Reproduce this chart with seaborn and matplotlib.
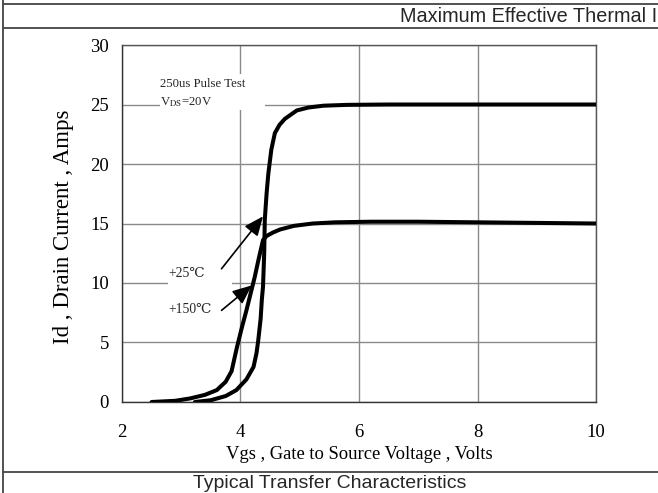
import pandas as pd
import seaborn as sns
import matplotlib.pyplot as plt
from matplotlib.patches import Rectangle
from matplotlib.lines import Line2D

# values
vgs_25c = [3.23, 3.5, 3.75, 3.93, 4.1, 4.22, 4.27, 4.30, 4.34, 4.36, 4.38, 4.40, 4.41,
           4.44, 4.47, 4.52, 4.58, 4.66, 4.75, 4.95, 5.15, 5.4, 5.8, 6.5, 8.0, 10.0]
id_25c = [0.0, 0.15, 0.5, 1.0, 1.9, 2.95, 4.1, 5.2, 7.0, 8.6, 9.7, 12.5, 15.3,
          17.5, 19.2, 21.2, 22.6, 23.3, 23.8, 24.5, 24.75, 24.9, 24.97, 25.0, 25.0, 25.0]

vgs_150c = [2.5, 2.9, 3.15, 3.4, 3.6, 3.75, 3.85, 3.94, 4.02, 4.1, 4.17, 4.24, 4.31,
            4.38, 4.44, 4.55, 4.67, 4.9, 5.22, 5.6, 6.2, 7.0, 8.0, 9.0, 10.0]
id_150c = [0.0, 0.1, 0.3, 0.6, 1.0, 1.7, 2.6, 4.6, 6.2, 7.7, 9.1, 10.5, 12.1,
           13.6, 13.95, 14.25, 14.5, 14.8, 15.0, 15.1, 15.15, 15.15, 15.1, 15.05, 15.0]

x_ticks = [2, 4, 6, 8, 10]
y_ticks = [0, 5, 10, 15, 20, 25, 30]

df = pd.concat([
    pd.DataFrame({"Vgs": vgs_25c, "Id": id_25c, "temp": "+25℃"}),
    pd.DataFrame({"Vgs": vgs_150c, "Id": id_150c, "temp": "+150℃"}),
])

sns.set_theme(style="white")
plt.rcParams["font.family"] = ["Liberation Serif", "DejaVu Serif", "DejaVu Sans"]
plt.rcParams["mathtext.fontset"] = "stix"

fig = plt.figure(figsize=(6.58, 4.93), dpi=100)
ax = fig.add_axes([0.1854, 0.1846, 0.7204, 0.7241])

sns.lineplot(data=df, x="Vgs", y="Id", units="temp", estimator=None, sort=False,
             color="black", lw=2.9, legend=False, ax=ax, zorder=4,
             solid_capstyle="round", solid_joinstyle="round")

ax.set_xlim(2, 10)
ax.set_ylim(0, 30)
ax.set_xticks(x_ticks)
ax.set_yticks(y_ticks)
ax.set_axisbelow(True)
ax.grid(True, color="#8a8a8a", lw=1)
for side, sp in ax.spines.items():
    sp.set_color("#555555" if side in ("top", "right") else "#333333")
    sp.set_linewidth(1.0)
ax.tick_params(axis="x", length=0, pad=15.5, labelsize=13.5, colors="black")
ax.tick_params(axis="y", length=0, pad=9.5, labelsize=13.5, colors="black")

ax.set_xlabel("Vgs , Gate to Source Voltage , Volts", fontsize=13.4, color="black")
ax.set_ylabel("Id , Drain Current , Amps", fontsize=16.5, color="black")
ax.xaxis.set_label_coords(0.5, -0.148)
ax.xaxis.label.set_va("center")
ax.yaxis.set_label_coords(-0.1225, 0.49)
ax.yaxis.label.set_va("center")

# white patches behind the annotations (they break the grid lines)
ax.add_patch(Rectangle((2.64, 24.5), 1.77, 3.1, facecolor="white", edgecolor="none", zorder=1))
ax.add_patch(Rectangle((2.78, 9.7), 1.08, 2.0, facecolor="white", edgecolor="none", zorder=1))

ax.text(2.64, 26.7, "250us Pulse Test", fontsize=9.2, va="center", zorder=3)
ax.text(2.64, 25.2, r"V$_{\rm DS}$=20V", fontsize=9.2, va="center", zorder=3)
ax.text(2.78, 10.8, "+25℃", fontsize=9.8, va="center", zorder=3)
ax.text(2.78, 7.8, "+150℃", fontsize=9.8, va="center", zorder=3)

arrow = dict(arrowstyle="-|>,head_length=0.65,head_width=0.28", color="black",
             lw=1.2, mutation_scale=18, shrinkA=0, shrinkB=0)
ax.annotate("", xy=(4.38, 15.6), xytext=(3.68, 11.2), arrowprops=arrow, zorder=5)
ax.annotate("", xy=(4.19, 9.8), xytext=(3.68, 7.7), arrowprops=arrow, zorder=5)

# datasheet table frame
W, H = 658, 493
line_kw = dict(transform=fig.transFigure, color="#444444", lw=1.3)
for yp in (4, 28, 471.7):
    fig.add_artist(Line2D([3 / W, 1], [1 - yp / H] * 2, **line_kw))
fig.add_artist(Line2D([3 / W, 3 / W], [0, 1], **line_kw))

fig.text(0.998, 1 - 16 / H, "Maximum Effective Thermal I", ha="right", va="center",
         fontsize=14.3, family="Liberation Sans")
fig.text(0.5008, 1 - 483.5 / H, "Typical Transfer Characteristics", ha="center",
         va="center", fontsize=14, family="Liberation Sans")

fig.savefig("out.png", dpi=100)
